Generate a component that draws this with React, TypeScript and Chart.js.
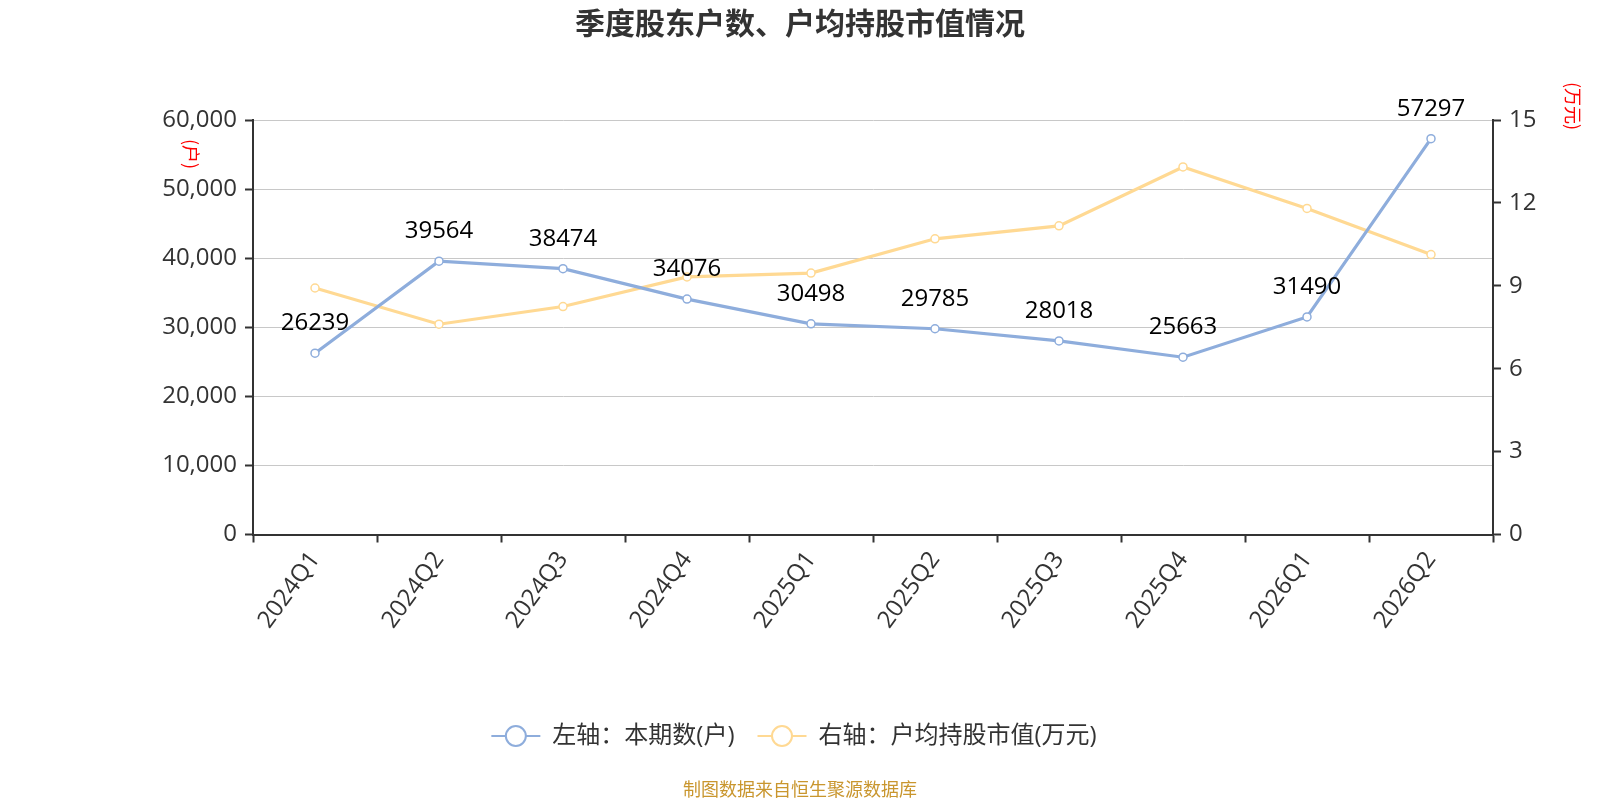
import React, { useRef, useEffect } from 'react';
import { Chart, registerables } from 'chart.js';

// Registra todos os componentes do Chart.js
Chart.register(...registerables);

// Dados do gráfico
const quarters = ['2024Q1', '2024Q2', '2024Q3', '2024Q4', '2025Q1', '2025Q2', '2025Q3', '2025Q4', '2026Q1', '2026Q2'];
const holders = [26239, 39564, 38474, 34076, 30498, 29785, 28018, 25663, 31490, 57297];
const avgValue = [8.92, 7.61, 8.25, 9.32, 9.46, 10.7, 11.17, 13.3, 11.8, 10.13];
const seriesNames = ['左轴：本期数(户)', '右轴：户均持股市值(万元)'];
const chartTitle = '季度股东户数、户均持股市值情况';
const sourceNote = '制图数据来自恒生聚源数据库';
const leftUnit = '(户)';
const rightUnit = '(万元)';

const FONT = "'Open Sans', 'Noto Sans CJK SC', sans-serif";
const CJK = "'Noto Sans CJK SC', sans-serif";
const BLUE = '#8EADDC';
const YELLOW = '#FFD993';
const AXIS = '#333';

// Desenha rótulos, títulos, legenda e rodapé
const decorations = {
  id: 'decorations',
  afterDatasetsDraw(chart: any) {
    const ctx = chart.ctx;
    const meta = chart.getDatasetMeta(0);
    ctx.save();
    ctx.font = `24px ${FONT}`;
    ctx.fillStyle = '#000';
    ctx.textAlign = 'center';
    ctx.textBaseline = 'middle';
    meta.data.forEach((pt: any, i: number) => {
      ctx.fillText(String(holders[i]), pt.x, pt.y - 30);
    });
    ctx.restore();
  },
  afterDraw(chart: any) {
    const ctx = chart.ctx;
    const area = chart.chartArea;
    ctx.save();

    // título
    ctx.font = `bold 30px ${CJK}`;
    ctx.fillStyle = '#333';
    ctx.textAlign = 'center';
    ctx.textBaseline = 'middle';
    ctx.fillText(chartTitle, 800, 23);

    // nomes dos eixos (girados)
    ctx.font = `18px ${CJK}`;
    ctx.fillStyle = '#ff0000';
    ctx.save();
    ctx.translate(area.left - 62, area.top + 34);
    ctx.rotate(Math.PI / 2);
    ctx.fillText(leftUnit, 0, 0);
    ctx.restore();
    ctx.save();
    ctx.translate(area.right + 80, area.top - 14);
    ctx.rotate(Math.PI / 2);
    ctx.fillText(rightUnit, 0, 0);
    ctx.restore();

    // legenda
    ctx.font = `24px ${FONT}`;
    const colors = [BLUE, YELLOW];
    const iconW = 49;
    const gapText = 12;
    const gapItem = 23;
    const widths = seriesNames.map((n) => ctx.measureText(n).width);
    const total = widths.reduce((a, w) => a + iconW + gapText + w, 0) + gapItem;
    let x = 794 - total / 2;
    const y = 736;
    seriesNames.forEach((name, i) => {
      ctx.strokeStyle = colors[i];
      ctx.lineWidth = 2;
      ctx.beginPath();
      ctx.moveTo(x, y);
      ctx.lineTo(x + iconW, y);
      ctx.stroke();
      ctx.beginPath();
      ctx.arc(x + iconW / 2, y, 10, 0, Math.PI * 2);
      ctx.fillStyle = '#fff';
      ctx.fill();
      ctx.stroke();
      ctx.fillStyle = '#333';
      ctx.textAlign = 'left';
      ctx.textBaseline = 'middle';
      ctx.fillText(name, x + iconW + gapText, y);
      x += iconW + gapText + widths[i] + gapItem;
    });

    // rodapé
    ctx.font = `18px ${CJK}`;
    ctx.fillStyle = '#C9962E';
    ctx.textAlign = 'center';
    ctx.fillText(sourceNote, 800, 789);
    ctx.restore();
  },
};

export default function App() {
  const chartRef = useRef<HTMLCanvasElement | null>(null);
  const chartInstance = useRef<Chart | null>(null);

  useEffect(() => {
    if (!chartRef.current) return;
    if (chartInstance.current) chartInstance.current.destroy();

    const tickFont = { size: 24, family: FONT };

    chartInstance.current = new Chart(chartRef.current, {
      type: 'line',
      data: {
        labels: quarters,
        datasets: [
          {
            label: seriesNames[0],
            data: holders,
            yAxisID: 'y',
            borderColor: BLUE,
            backgroundColor: '#fff',
            borderWidth: 3.2,
            pointRadius: 4,
            pointBorderWidth: 1.5,
            pointBackgroundColor: '#fff',
            pointBorderColor: BLUE,
            tension: 0,
          },
          {
            label: seriesNames[1],
            data: avgValue,
            yAxisID: 'y1',
            borderColor: YELLOW,
            backgroundColor: '#fff',
            borderWidth: 3.2,
            pointRadius: 4,
            pointBorderWidth: 1.5,
            pointBackgroundColor: '#fff',
            pointBorderColor: YELLOW,
            tension: 0,
          },
        ],
      },
      options: {
        responsive: false,
        animation: false,
        devicePixelRatio: 1,
        layout: { padding: { top: 120, left: 0, right: 0, bottom: 0 } },
        plugins: {
          legend: { display: false },
          title: { display: false },
          tooltip: { enabled: false },
        },
        scales: {
          x: {
            type: 'category',
            offset: true,
            grid: {
              display: true,
              drawOnChartArea: false,
              offset: true,
              tickLength: 8,
              tickColor: AXIS,
              tickWidth: 2,
            },
            border: { color: AXIS, width: 2 },
            ticks: {
              autoSkip: false,
              minRotation: 54,
              maxRotation: 54,
              color: AXIS,
              font: tickFont,
              padding: 4,
            },
            afterFit: (s: any) => {
              s.height = 265.5;
            },
          },
          y: {
            position: 'left',
            min: 0,
            max: 60000,
            ticks: {
              stepSize: 10000,
              color: AXIS,
              font: tickFont,
              padding: 8,
              callback: (v: any) => Number(v).toLocaleString('en-US'),
            },
            grid: { color: '#c8c8c8', lineWidth: 1, tickColor: AXIS, tickLength: 8, tickWidth: 2 },
            border: { color: AXIS, width: 2 },
            afterFit: (s: any) => {
              s.width = 253;
            },
          },
          y1: {
            position: 'right',
            min: 0,
            max: 15,
            ticks: { stepSize: 3, color: AXIS, font: tickFont, padding: 8 },
            grid: { drawOnChartArea: false, tickColor: AXIS, tickLength: 8, tickWidth: 2 },
            border: { color: AXIS, width: 2 },
            afterFit: (s: any) => {
              s.width = 107;
            },
          },
        },
      } as any,
      plugins: [decorations],
    });

    return () => {
      if (chartInstance.current) {
        chartInstance.current.destroy();
        chartInstance.current = null;
      }
    };
  }, []);

  return (
    <div style={{ position: 'absolute', left: 0, top: 0, width: 1600, height: 800, background: '#fff' }}>
      <canvas ref={chartRef} width={1600} height={800} style={{ width: 1600, height: 800 }}></canvas>
    </div>
  );
}
